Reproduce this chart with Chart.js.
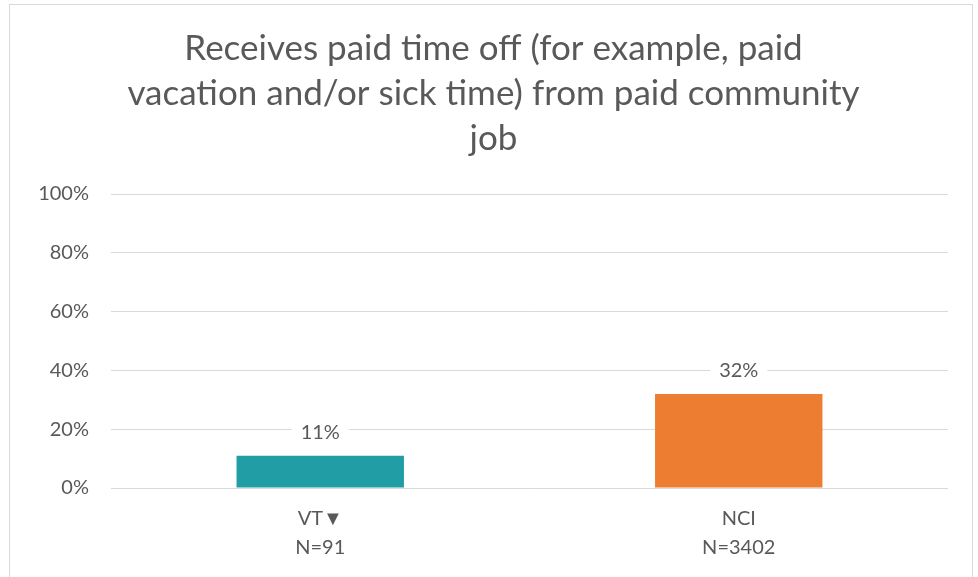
<!DOCTYPE html>
<html>
<head>
<meta charset="utf-8">
<script src="https://cdn.jsdelivr.net/npm/chart.js@4"></script>
<style>
  body { margin: 0; background: #fff; }
  #frame {
    position: absolute; left: 9px; top: 4px;
    width: 962px; height: 580px;
    border: 1px solid #d9d9d9;
  }
</style>
</head>
<body>
<div id="frame"><canvas id="chart" width="962" height="572"></canvas></div>
<script>
// Chart values
const categories = [['VT\u25BC', 'N=91'], ['NCI', 'N=3402']];
const percentValues = [11, 32];
const barColors = ['#219DA6', '#ED7D31'];
const titleLines = [
    'Receives paid time off (for example, paid',
    'vacation and/or sick time) from paid community',
    'job'
];

const FONT = "Lato, 'Open Sans', sans-serif";
const GREY = '#595959';

// labels over the bars, on a white box that cuts the gridline
const barLabels = {
    id: 'barLabels',
    afterDatasetsDraw(chart) {
        const ctx = chart.ctx;
        const meta = chart.getDatasetMeta(0);
        ctx.save();
        ctx.font = '20px ' + FONT;
        ctx.textAlign = 'center';
        ctx.textBaseline = 'middle';
        meta.data.forEach((bar, i) => {
            const text = percentValues[i] + '%';
            const w = ctx.measureText(text).width;
            const y = bar.y - 23;
            ctx.fillStyle = '#fff';
            ctx.fillRect(bar.x - w / 2 - 9, y - 12, w + 18, 24);
            ctx.fillStyle = GREY;
            ctx.fillText(text, bar.x, y);
        });
        ctx.restore();
    }
};

const ctx = document.getElementById('chart').getContext('2d');
new Chart(ctx, {
    type: 'bar',
    data: {
        labels: categories,
        datasets: [{
            data: percentValues,
            backgroundColor: barColors,
            barPercentage: 0.4,
            categoryPercentage: 1.0,
        }],
    },
    options: {
        responsive: false,
        animation: false,
        layout: { padding: { left: 29, right: 24, top: 0, bottom: 0 } },
        scales: {
            x: {
                grid: { display: false, drawTicks: false },
                border: { display: false },
                ticks: { color: GREY, font: { family: FONT, size: 20, lineHeight: 1.45 }, padding: 16 },
                afterFit(scale) { scale.height = 89; },
            },
            y: {
                min: 0,
                max: 100,
                grid: { color: '#d9d9d9', lineWidth: 1, drawTicks: false },
                border: { display: false },
                ticks: {
                    stepSize: 20,
                    color: GREY,
                    padding: 22,
                    font: { family: FONT, size: 20 },
                    callback: v => v + '%',
                },
                afterFit(scale) { scale.width = 72; },
            },
        },
        plugins: {
            legend: { display: false },
            tooltip: { enabled: false },
            title: {
                display: true,
                text: titleLines,
                color: GREY,
                font: { family: FONT, size: 35, weight: 'normal', lineHeight: 1.286 },
                padding: { top: 21, bottom: 33 },
            },
        },
    },
    plugins: [barLabels],
});
</script>
</body>
</html>
